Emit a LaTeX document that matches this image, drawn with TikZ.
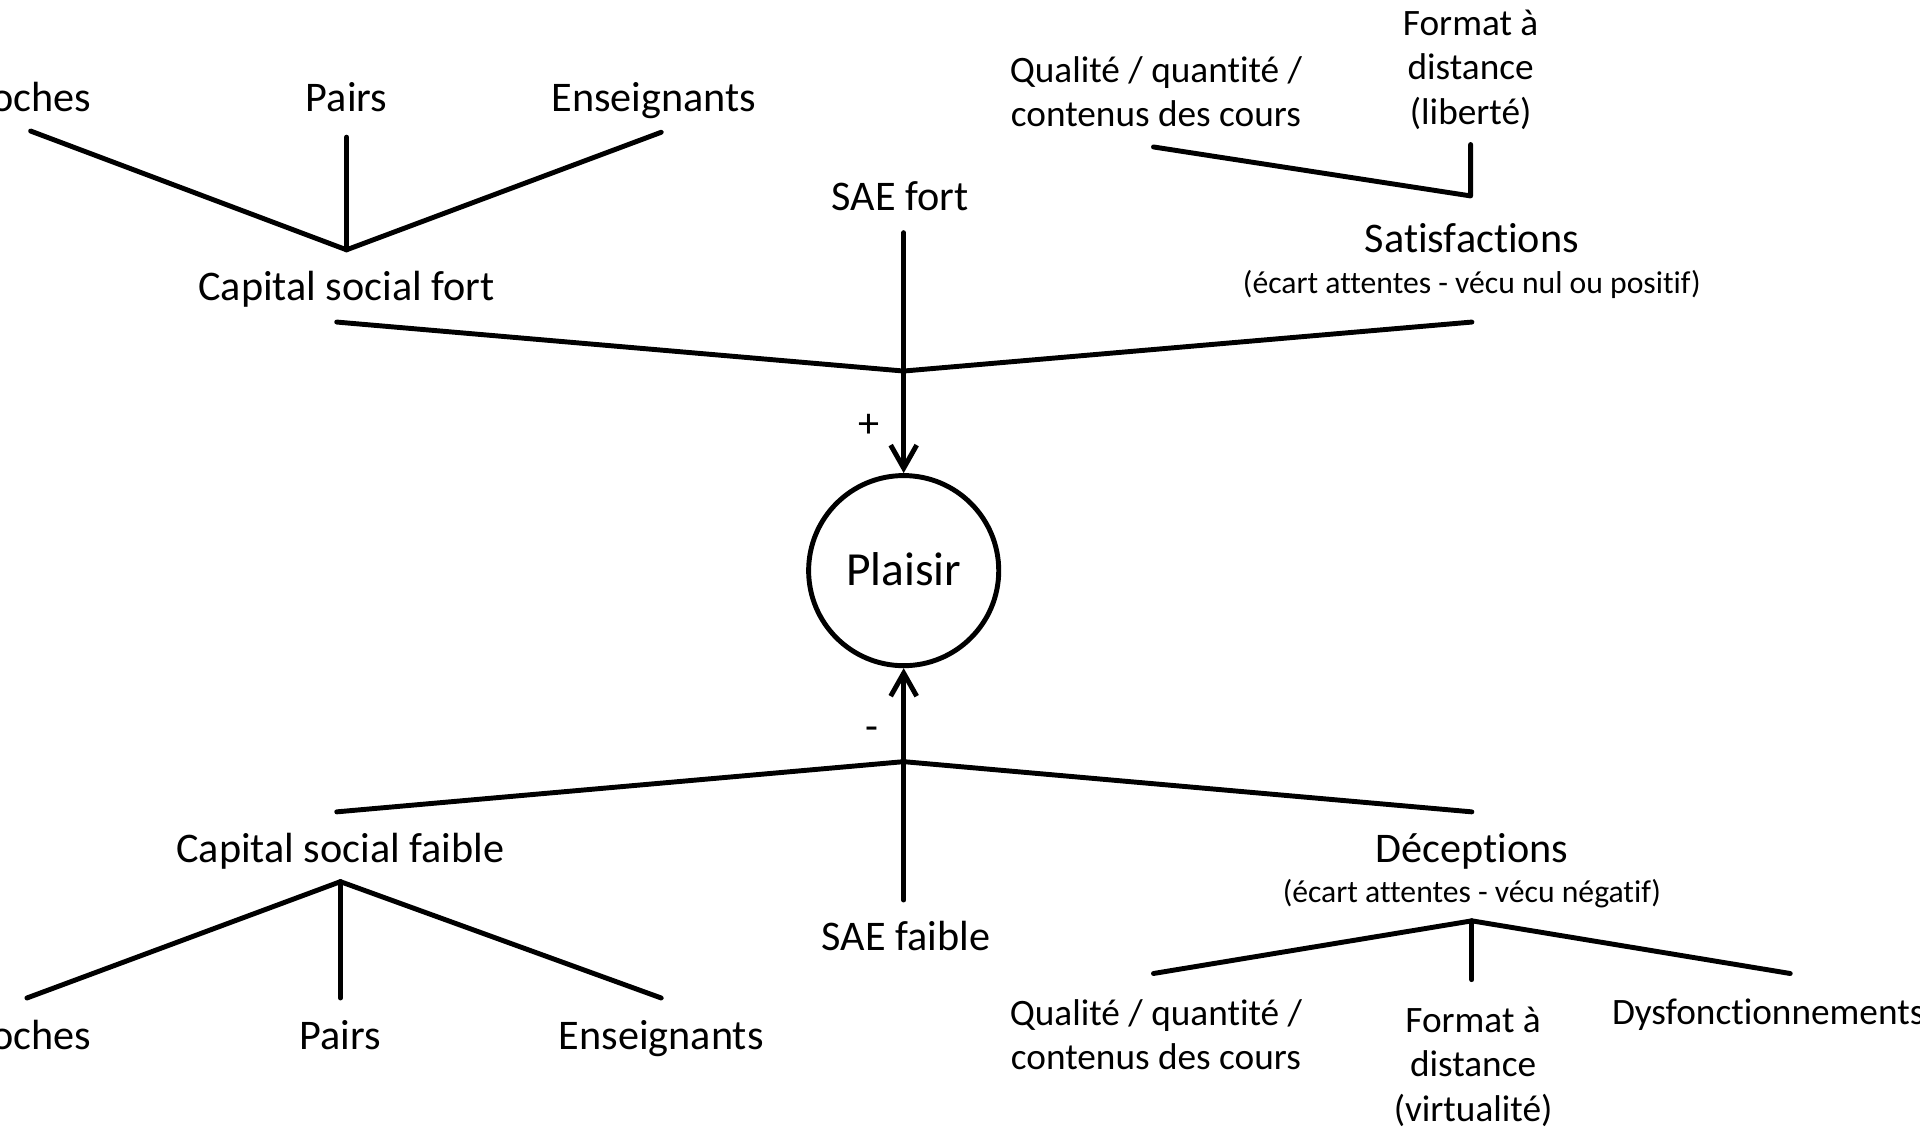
\documentclass[tikz,border=0pt]{standalone}
\usepackage{fontspec}
\setmainfont{Carlito}[Ligatures=NoCommon]
\usetikzlibrary{arrows.meta}
\definecolor{pdInk}{HTML}{000000}
\tikzset{
  pd diagram/.style={x=0.012245cm, y=-0.012245cm, text=pdInk,
    font=\fontsize{12}{12.6}\selectfont, line cap=round, line join=round},
  pd label/.style={inner sep=0pt, text height=7.7pt, text depth=0pt},
  pd block/.style={inner sep=0pt, align=center,
    font=\fontsize{10.6}{12.6}\selectfont},
  pd small/.style={pd label, text height=6.8pt,
    font=\fontsize{10.6}{12.6}\selectfont},
  pd note/.style={inner sep=0pt, text height=5.8pt, text depth=0pt,
    font=\fontsize{9}{10}\selectfont},
  pd link/.style={draw=pdInk, line width=1.4pt},
  pd arrow/.style={pd link, -{Straight Barb[length=2.3mm,width=2.6mm]}},
  pd hub/.style={circle, draw=pdInk, line width=1.4pt, minimum size=1.9cm,
    inner sep=0pt, text height=8.7pt, text depth=0pt,
    font=\fontsize{13.5}{14}\selectfont}
}
\begin{document}
\begin{tikzpicture}[pd diagram]
\path[use as bounding box, clip] (0,0) rectangle (1568,924);
% centre
\node[pd hub] (plaisir) at (738,466) {Plaisir};
\coordinate (jTop) at (738,303);
\coordinate (jBot) at (738,622);
\draw[pd arrow] (jTop) -- (plaisir);
\draw[pd arrow] (jBot) -- (plaisir);
\node[pd label] (plus) at (710,346) {+};
\node[pd label] (minus) at (712,594) {-};
% positive branch
\node[pd label] (saeFort) at (735,161) {SAE fort};
\node[pd label] (capFort) at (283,234) {Capital social fort};
\node[pd label] (satis) at (1202,195) {Satisfactions};
\node[pd note] (satisNote) at (1202,231) {(écart attentes - vécu nul ou positif)};
\coordinate (saeFort-end) at (738,190);
\coordinate (capFort-end) at (275,263);
\coordinate (satis-end) at (1202,263);
\foreach \a in {saeFort-end,capFort-end,satis-end}
  \draw[pd link] (\a) -- (jTop);
\coordinate (jCapFort) at (283,204);
\foreach \x/\ex/\ey/\name/\txt in {19/25/107/prochesF/Proches,283/283/112/pairsF/Pairs,534/540/108/ensF/Enseignants}{
  \node[pd label] (\name) at (\x,80) {\txt};
  \coordinate (\name-end) at (\ex,\ey);
  \draw[pd link] (\name-end) -- (jCapFort);
}
\node[pd block] (qualF) at (944,75) {Qualité / quantité /\\contenus des cours};
\node[pd block] (formatF) at (1201,57) {Format à\\distance\\(liberté)};
\coordinate (jSatis) at (1201,160);
\coordinate (qualF-end) at (942,120);
\coordinate (formatF-end) at (1201,118);
\draw[pd link] (qualF-end) -- (jSatis) -- (formatF-end);
% negative branch
\node[pd label] (saeFaible) at (740,765) {SAE faible};
\node[pd label] (capFaible) at (278,693) {Capital social faible};
\node[pd label] (decep) at (1202,693) {Déceptions};
\node[pd note] (decepNote) at (1202,729) {(écart attentes - vécu négatif)};
\coordinate (saeFaible-end) at (738,735);
\coordinate (capFaible-end) at (275,663);
\coordinate (decep-end) at (1202,663);
\foreach \a in {saeFaible-end,capFaible-end,decep-end}
  \draw[pd link] (\a) -- (jBot);
\coordinate (jCapFaible) at (278,720);
\foreach \x/\ex/\name/\txt in {19/22/prochesB/Proches,278/278/pairsB/Pairs,540/540/ensB/Enseignants}{
  \node[pd label] (\name) at (\x,846) {\txt};
  \coordinate (\name-end) at (\ex,815);
  \draw[pd link] (\name-end) -- (jCapFaible);
}
\node[pd block] (qualB) at (944,845) {Qualité / quantité /\\contenus des cours};
\node[pd block] (formatB) at (1203,871) {Format à\\distance\\(virtualité)};
\node[pd small] (dysB) at (1444,827) {Dysfonctionnements};
\coordinate (jDecep) at (1202,752);
\coordinate (qualB-end) at (942,795);
\coordinate (formatB-end) at (1202,800);
\coordinate (dysB-end) at (1462,795);
\foreach \a in {qualB-end,formatB-end,dysB-end}
  \draw[pd link] (\a) -- (jDecep);
\end{tikzpicture}
\end{document}
